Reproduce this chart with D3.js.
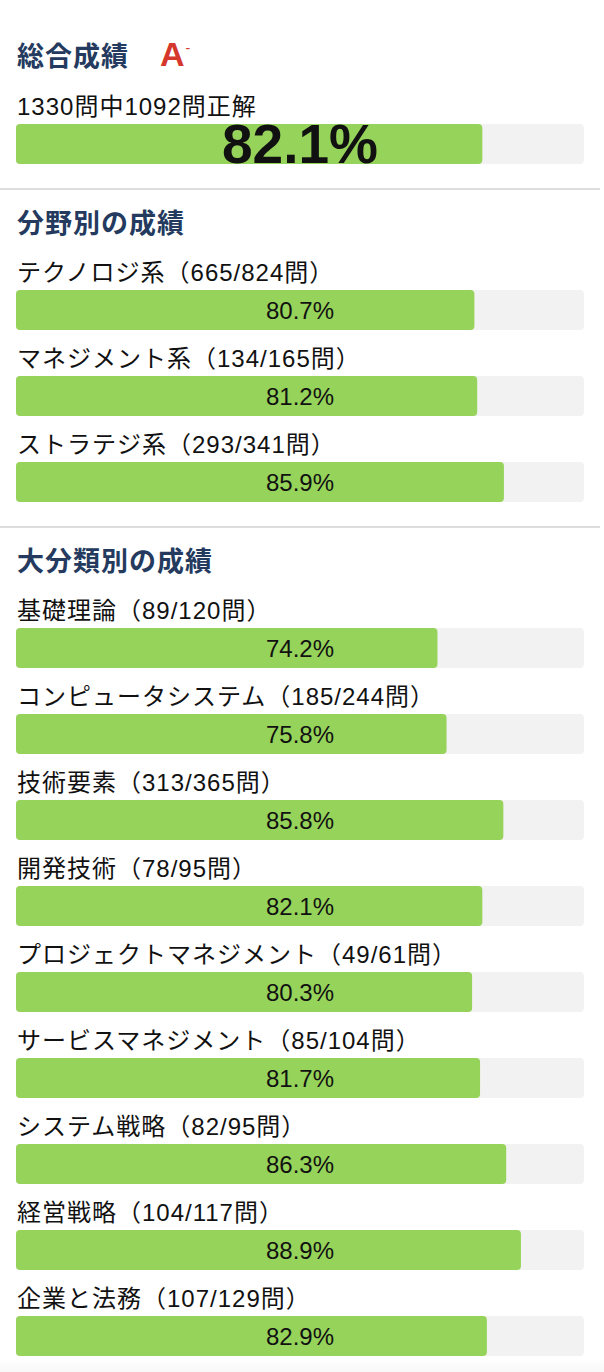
<!DOCTYPE html>
<html>
<head>
<meta charset="utf-8">
<script src="https://cdn.jsdelivr.net/npm/d3@7"></script>
<style>
  body { margin: 0; background: #fff; }
  svg { display: block; }
</style>
</head>
<body>
<div id="chart"></div>
<script>
// overall result
let overallTotal = 1330;
let overallCorrect = 1092;
let overallPct = 82.1;
let overallGrade = "A";
let overallGradeMod = "-";

// sections
let sectionTitles = ["総合成績", "分野別の成績", "大分類別の成績"];

let fieldNames = ["テクノロジ系", "マネジメント系", "ストラテジ系"];
let fieldCorrect = [665, 134, 293];
let fieldTotal = [824, 165, 341];
let fieldPct = [80.7, 81.2, 85.9];

let majorNames = ["基礎理論", "コンピュータシステム", "技術要素", "開発技術",
    "プロジェクトマネジメント", "サービスマネジメント", "システム戦略", "経営戦略", "企業と法務"];
let majorCorrect = [89, 185, 313, 78, 49, 85, 82, 104, 107];
let majorTotal = [120, 244, 365, 95, 61, 104, 95, 117, 129];
let majorPct = [74.2, 75.8, 85.8, 82.1, 80.3, 81.7, 86.3, 88.9, 82.9];

let W = 604, H = 1372;
let font = "'Liberation Sans', 'Noto Sans CJK JP', sans-serif";
let cjk = "'Noto Sans CJK JP', sans-serif";
let green = "#96d35a", track = "#f2f2f2", navy = "#243a5e", ink = "#111";

let svg = d3.select("#chart").append("svg")
    .attr("width", W)
    .attr("height", H)
    .style("font-family", font);

let x = d3.scaleLinear().domain([0, 100]).range([16, 584]);
let barH = 40, step = 86;

function drawBar(g, top, pct, big) {
    g.append("rect")
        .attr("x", x(0)).attr("y", top)
        .attr("width", x(100) - x(0)).attr("height", barH)
        .attr("rx", 4)
        .attr("fill", track);
    g.append("rect")
        .attr("x", x(0)).attr("y", top)
        .attr("width", x(pct) - x(0)).attr("height", barH)
        .attr("rx", 4)
        .attr("fill", green);
    if (big) {
        g.append("text")
            .attr("x", (x(0) + x(100)) / 2).attr("y", top + 39)
            .attr("text-anchor", "middle")
            .style("font-size", "55px").style("font-weight", 700)
            .attr("fill", ink)
            .text(pct.toFixed(1) + "%");
    } else {
        g.append("text")
            .attr("x", (x(0) + x(100)) / 2).attr("y", top + 29)
            .attr("text-anchor", "middle")
            .style("font-size", "24px")
            .attr("fill", ink)
            .text(pct.toFixed(1) + "%");
    }
}

function drawLabel(g, top, txt) {
    g.append("text")
        .attr("x", 17).attr("y", top - 9)
        .style("font-size", "24px")
        .style("letter-spacing", "1px")
        .attr("fill", ink)
        .text(txt);
}

function drawTitle(g, baseline, txt) {
    return g.append("text")
        .attr("x", 17).attr("y", baseline)
        .style("font-family", cjk)
        .style("font-size", "27px").style("font-weight", 700)
        .style("letter-spacing", "1px")
        .attr("fill", navy)
        .text(txt);
}

function drawSep(y) {
    svg.append("rect")
        .attr("x", 0).attr("y", y)
        .attr("width", 600).attr("height", 2)
        .attr("fill", "#dddddd");
}

// section 1: overall
let s1 = svg.append("g");
drawTitle(s1, 66, sectionTitles[0]);
let grade = s1.append("text")
    .attr("x", 160).attr("y", 66)
    .attr("fill", "#d6372d")
    .style("font-weight", 700);
grade.append("tspan").style("font-size", "34px").text(overallGrade);
grade.append("tspan").style("font-size", "14px").style("font-weight", 400)
    .attr("dx", 1).attr("dy", -13).text(overallGradeMod);
drawLabel(s1, 124, overallTotal + "問中" + overallCorrect + "問正解");
drawBar(s1, 124, overallPct, true);

drawSep(188);

// section 2: fields
let s2 = svg.append("g");
drawTitle(s2, 233, sectionTitles[1]);
fieldNames.forEach(function(d, i) {
    let top = 290 + i * step;
    drawLabel(s2, top, d + "（" + fieldCorrect[i] + "/" + fieldTotal[i] + "問）");
    drawBar(s2, top, fieldPct[i], false);
});

drawSep(526);

// section 3: major categories
let s3 = svg.append("g");
drawTitle(s3, 571, sectionTitles[2]);
majorNames.forEach(function(d, i) {
    let top = 628 + i * step;
    drawLabel(s3, top, d + "（" + majorCorrect[i] + "/" + majorTotal[i] + "問）");
    drawBar(s3, top, majorPct[i], false);
});

// faint fade at the bottom edge
let defs = svg.append("defs");
let grad = defs.append("linearGradient").attr("id", "fade")
    .attr("x1", 0).attr("y1", 0).attr("x2", 0).attr("y2", 1);
grad.append("stop").attr("offset", 0).attr("stop-color", "#000").attr("stop-opacity", 0);
grad.append("stop").attr("offset", 1).attr("stop-color", "#000").attr("stop-opacity", 0.03);
svg.append("rect")
    .attr("x", 0).attr("y", H - 14)
    .attr("width", W).attr("height", 14)
    .attr("fill", "url(#fade)");
</script>
</body>
</html>
